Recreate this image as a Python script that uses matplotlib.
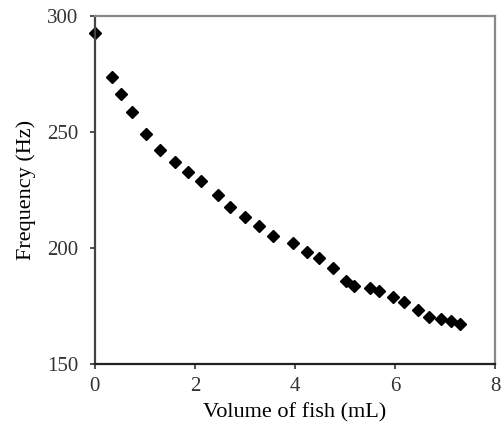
import matplotlib.pyplot as plt

# volume of fish (mL) and measured frequency (Hz)
volume = [0, 0.35, 0.53, 0.75, 1.02, 1.31, 1.6, 1.87, 2.12, 2.47, 2.70, 3.0, 3.29,
          3.57, 3.97, 4.25, 4.49, 4.77, 5.03, 5.18, 5.5, 5.68, 5.97, 6.18, 6.47,
          6.69, 6.92, 7.12, 7.3]
frequency = [292.5, 273.8, 266.4, 258.8, 249.1, 242.2, 237.2, 232.6, 229.0, 222.8,
             217.8, 213.5, 209.5, 205.3, 202.3, 198.4, 195.6, 191.3, 185.8, 183.6,
             182.9, 181.5, 179.0, 176.9, 173.3, 170.4, 169.5, 168.5, 167.1]
x_err = [0.08] * len(volume)
y_err = [1.2] * len(volume)

x_ticks = [0, 2, 4, 6, 8]
y_ticks = [150, 200, 250, 300]

plt.rcParams['font.family'] = ['Liberation Serif', 'DejaVu Serif']
plt.rcParams['text.color'] = '#222222'
plt.rcParams['xtick.color'] = '#333333'
plt.rcParams['ytick.color'] = '#333333'

fig = plt.figure(figsize=(5.02, 4.28), dpi=100)
ax = fig.add_axes([0.189, 0.1495, 0.797, 0.8131])

eb = ax.errorbar(volume, frequency, xerr=x_err, yerr=y_err, fmt='D', color='black',
                 markersize=5.8, elinewidth=0.8, capsize=0)
for artist in eb.get_children():
    artist.set_clip_on(False)

ax.set_xlim(0, 8)
ax.set_ylim(150, 300)
ax.set_xticks(x_ticks)
ax.set_yticks(y_ticks)
ax.set_xlabel('Volume of fish (mL)', fontsize=16, labelpad=5)
ax.set_ylabel('Frequency (Hz)', fontsize=16, labelpad=8)
ax.tick_params(axis='x', labelsize=15, direction='out', length=3.6, width=1.2, pad=6)
ax.tick_params(axis='y', labelsize=15, direction='out', length=3.6, width=1.2, pad=8.5)

ax.spines['left'].set_color('#444444')
ax.spines['bottom'].set_color('#222222')
ax.spines['top'].set_color('#888888')
ax.spines['right'].set_color('#888888')
for s in ax.spines.values():
    s.set_linewidth(1.6)

fig.savefig('out.png', dpi=100)
